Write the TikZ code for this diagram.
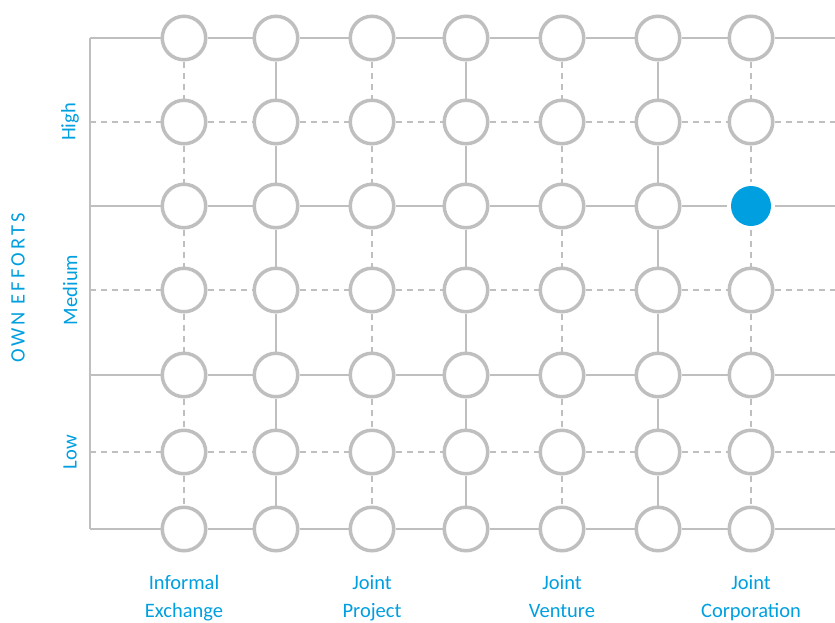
\documentclass[tikz,border=0pt]{standalone}
\usepackage{fontspec}
\setmainfont{Carlito}
\newfontfamily\spacedfont[LetterSpace=15]{Carlito}
\definecolor{ringgray}{HTML}{BFBFBF}
\definecolor{effblue}{HTML}{009FE0}
\tikzset{
  ring/.style={circle, draw=ringgray, line width=3.5pt, fill=white,
    minimum size=43.5pt, inner sep=0pt},
  spot/.style={circle, fill=effblue, minimum size=40pt, inner sep=0pt,
    outer sep=4pt},
  link/.style={draw=ringgray, line width=2pt},
  dlink/.style={link, dash pattern=on 6pt off 5pt},
  lbl/.style={text=effblue, font=\fontsize{20.5}{28}\selectfont, align=center},
  kind/.style={lbl, anchor=north, inner sep=0pt}
}

\begin{document}
\begin{tikzpicture}[x=1pt,y=-1pt]
\useasboundingbox (0,0) rectangle (835,622);
% grid of rings, one spot
\foreach \x [count=\i] in {184,276,372,466,562,658,751}
  \foreach \y [count=\j] in {38,122,206,290,375,452,529}
  {
    \def\sty{ring}
    \ifnum\i=7 \ifnum\j=3 \def\sty{spot}\fi\fi
    \node[\sty] (c-\i-\j) at (\x,\y) {};
  }
\foreach \y [count=\j] in {38,122,206,290,375,452,529}
{
  \path (90,\y) coordinate (a-\j)
        (835,\y) coordinate (r-\j);
}
% rows
\foreach \j/\ls in {1/link,2/dlink,3/link,4/dlink,5/link,6/dlink,7/link}
  \draw[\ls] (a-\j) -- (c-1-\j) -- (c-2-\j) -- (c-3-\j) -- (c-4-\j)
             -- (c-5-\j) -- (c-6-\j) -- (c-7-\j) -- (r-\j);
% columns
\foreach \i/\ls in {1/dlink,2/link,3/dlink,4/link,5/dlink,6/link,7/dlink}
  \draw[\ls] (c-\i-1) -- (c-\i-2) -- (c-\i-3) -- (c-\i-4)
             -- (c-\i-5) -- (c-\i-6) -- (c-\i-7);
\draw[link] (a-1) -- (a-7);
% labels
\path
(70,122) node[lbl, rotate=90] (high) {High}
(70,290) node[lbl, rotate=90] (medium) {Medium}
(70,452) node[lbl, rotate=90] (low) {Low}
(18,288) node[lbl, rotate=90] (effort) {\spacedfont OWN EFFORTS}
(184,570) node[kind] (informal) {\strut Informal\\\strut Exchange}
(372,570) node[kind] (project) {\strut Joint\\\strut Project}
(562,570) node[kind] (venture) {\strut Joint\\\strut Venture}
(751,570) node[kind] (corp) {\strut Joint\\\strut Corporation};
\end{tikzpicture}
\end{document}
